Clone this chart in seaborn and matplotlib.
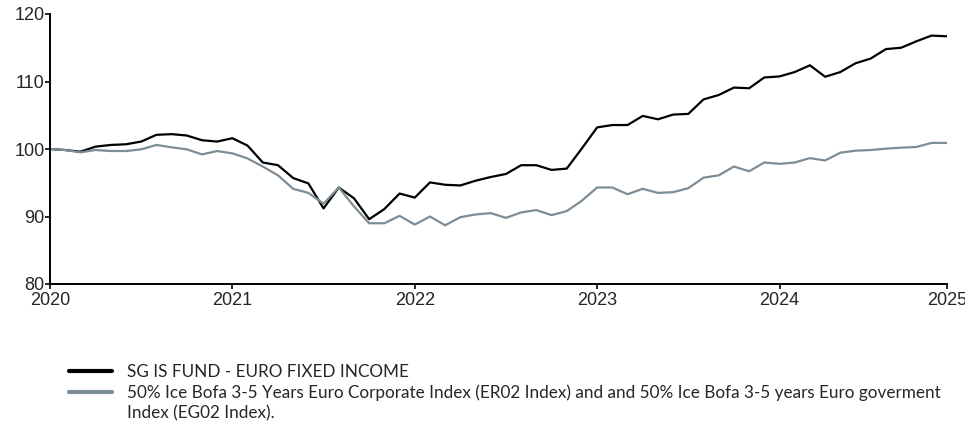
import matplotlib
matplotlib.use("Agg")
from matplotlib import pyplot as plt
import seaborn as sns
import pandas as pd

# monthly index values, Jan 2020 .. Dec 2024
fund = [100.0, 99.85, 99.6, 100.35, 100.6, 100.7, 101.1, 102.1, 102.2, 102.0, 101.3, 101.1,
        101.6, 100.5, 98.0, 97.6, 95.7, 94.9, 91.2, 94.3, 92.7, 89.6, 91.1, 93.4,
        92.8, 95.05, 94.7, 94.6, 95.3, 95.85, 96.3, 97.6, 97.6, 96.9, 97.1, 100.1,
        103.2, 103.55, 103.55, 104.9, 104.4, 105.1, 105.2, 107.35, 108.0, 109.1, 109.0, 110.6,
        110.75, 111.4, 112.4, 110.7, 111.4, 112.7, 113.4, 114.8, 115.0, 115.95, 116.8, 116.7]
bench = [100.0, 99.85, 99.5, 99.85, 99.7, 99.7, 99.95, 100.6, 100.25, 99.95, 99.2, 99.7,
         99.35, 98.6, 97.4, 96.1, 94.1, 93.5, 91.9, 94.3, 91.5, 89.0, 89.0, 90.1,
         88.8, 90.0, 88.7, 89.9, 90.3, 90.5, 89.8, 90.6, 90.95, 90.2, 90.8, 92.35,
         94.3, 94.3, 93.3, 94.1, 93.5, 93.6, 94.2, 95.75, 96.1, 97.4, 96.7, 98.0,
         97.8, 98.0, 98.65, 98.3, 99.45, 99.75, 99.85, 100.05, 100.2, 100.3, 100.9, 100.9]
year_labels = ["2020", "2021", "2022", "2023", "2024", "2025"]
year_ticks = [0, 12, 24, 36, 48, 59]

fund_name = "SG IS FUND - EURO FIXED INCOME"
bench_name = "50% Ice Bofa 3-5 Years Euro Corporate Index (ER02 Index) and and 50% Ice Bofa 3-5 years Euro goverment"
bench_name_cont = "Index (EG02 Index)."

months = list(range(len(fund)))
df = pd.concat([
    pd.DataFrame({"month": months, "value": fund, "series": fund_name}),
    pd.DataFrame({"month": months, "value": bench, "series": bench_name}),
])

sns.set_style("ticks")
plt.rcParams["font.family"] = ["Liberation Sans", "DejaVu Sans"]

fig = plt.figure(figsize=(9.65, 4.21), dpi=100)
ax = fig.add_axes([50 / 965, 1 - 284 / 421, 896.7 / 965, 270 / 421])

sns.lineplot(data=df, x="month", y="value", hue="series",
             palette={fund_name: "#000000", bench_name: "#7d8d95"},
             linewidth=1.6, ax=ax, legend=False)

ax.set_xlim(0, 59)
ax.set_ylim(80, 120)
ax.set_yticks([80, 90, 100, 110, 120])
ax.set_xticks(year_ticks)
ax.set_xticklabels(year_labels)
ax.set_xlabel("")
ax.set_ylabel("")
ax.tick_params(labelsize=13, length=3.5, width=1.2, color="black")
ax.tick_params(axis="y", pad=0.5)
ax.tick_params(axis="x", pad=2.5)
for s in ["left", "bottom"]:
    ax.spines[s].set_linewidth(1.4)
    ax.spines[s].set_color("black")
sns.despine(ax=ax)

handles = [plt.Line2D([], [], color="#000000", lw=3),
           plt.Line2D([], [], color="#7d8d95", lw=3),
           plt.Line2D([], [], color="none", lw=3)]
fig.legend(handles, [fund_name, bench_name, bench_name_cont], loc="upper left",
           bbox_to_anchor=(62 / 965, 1 - 357 / 421), frameon=False,
           prop={"family": "Lato", "size": 12.3}, handlelength=2.5,
           handletextpad=0.9, labelspacing=0.26, borderaxespad=0)

fig.savefig("out.png", dpi=100)
